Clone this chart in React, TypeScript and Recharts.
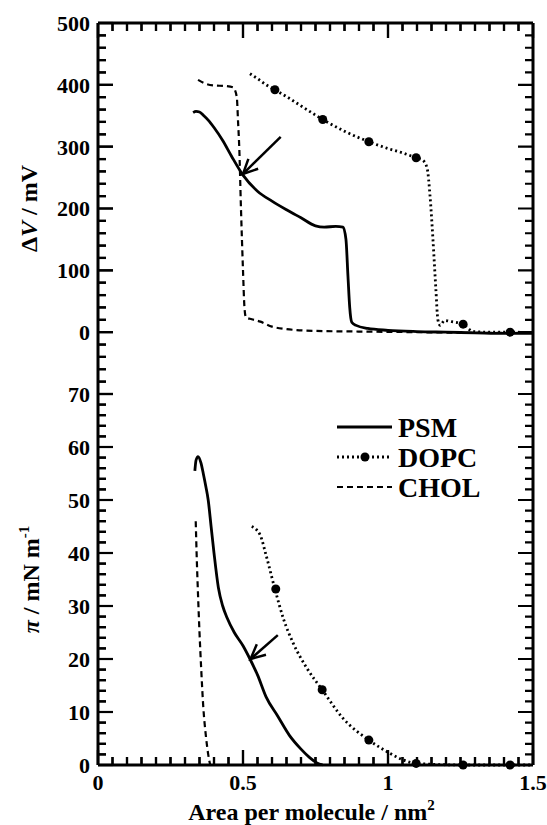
import React from "react";
import {
  LineChart,
  Line,
  XAxis,
  YAxis,
  Label,
  Legend,
  ReferenceLine,
} from "recharts";

// surface potential (top panel), x in nm^2, y in mV
const psmDvX = [0.328, 0.338, 0.35, 0.365, 0.38, 0.40, 0.43, 0.46, 0.50, 0.55, 0.60, 0.65, 0.70, 0.75, 0.78, 0.82, 0.845, 0.855, 0.862, 0.868, 0.875, 0.89, 0.93, 1.0, 1.1, 1.2, 1.3, 1.4, 1.5];
const psmDvY = [355, 357, 356, 350, 343, 331, 310, 285, 254, 228, 212, 198, 185, 172, 170, 171, 170, 150, 90, 40, 16, 11, 6, 3, 1, 0, -1, -2, -2];

const dopcDvX = [0.524, 0.55, 0.58, 0.61, 0.65, 0.70, 0.775, 0.85, 0.934, 1.0, 1.05, 1.097, 1.12, 1.135, 1.145, 1.155, 1.165, 1.172, 1.18, 1.195, 1.22, 1.259, 1.293, 1.35, 1.42, 1.5];
const dopcDvY = [418, 410, 400, 392, 381, 366, 344, 325, 308, 297, 290, 282, 278, 265, 220, 150, 70, 20, 11, 19, 17, 13, 1, 0, 0, -1];
const dopcDvMarkX = [0.61, 0.775, 0.934, 1.097, 1.259, 1.421];
const dopcDvMarkY = [392, 344, 308, 282, 13, 0];

const cholDvX = [0.345, 0.37, 0.40, 0.44, 0.466, 0.472, 0.479, 0.483, 0.487, 0.493, 0.50, 0.505, 0.51, 0.53, 0.56, 0.60, 0.65, 0.75, 0.9, 1.1, 1.3, 1.5];
const cholDvY = [408, 402, 399, 398, 396, 392, 378, 340, 300, 200, 100, 40, 24, 21, 17, 9, 5, 2, 1, 0, -1, -1];

// surface pressure (bottom panel), y in mN/m
const psmPiX = [0.334, 0.338, 0.345, 0.355, 0.363, 0.372, 0.38, 0.39, 0.40, 0.415, 0.43, 0.445, 0.47, 0.50, 0.524, 0.55, 0.58, 0.62, 0.66, 0.70, 0.73, 0.755, 0.775];
const psmPiY = [55.5, 57.5, 58.2, 57, 55, 52.5, 50, 45, 40, 33.5, 30, 27.8, 25, 22.5, 20, 17, 12.8, 9.2, 5.6, 3, 1.4, 0.4, 0];

const dopcPiX = [0.53, 0.545, 0.56, 0.58, 0.61, 0.64, 0.673, 0.72, 0.773, 0.845, 0.934, 1.007, 1.05, 1.097, 1.259, 1.421, 1.5];
const dopcPiY = [45, 44.5, 43.3, 39.5, 33.2, 27.5, 23, 18.3, 14.2, 8.8, 4.7, 2.2, 1, 0.3, 0, 0, 0];
const dopcPiMarkX = [0.613, 0.773, 0.934, 1.097, 1.259, 1.421];
const dopcPiMarkY = [33.2, 14.2, 4.7, 0.3, 0, 0];

const cholPiX = [0.337, 0.34, 0.345, 0.35, 0.356, 0.363, 0.372, 0.38, 0.387];
const cholPiY = [46, 40, 32, 25, 18, 11, 5.5, 2, 0];

// arrows: [tail, tip]
const dvArrow = [{ x: 0.63, y: 316 }, { x: 0.5, y: 256 }];
const piArrow = [{ x: 0.62, y: 24.5 }, { x: 0.526, y: 20 }];

const legendNames = ["PSM", "DOPC", "CHOL"];

const X_DOMAIN = [0, 1.5];
const DV_DOMAIN = [-100, 500];
const PI_DOMAIN = [0, 70];

const xTicks = range(0, 1.5, 0.05);
const dvTicks = range(-100, 500, 20);
const piTicks = range(0, 70, 2);

function range(a: number, b: number, step: number) {
  const out: number[] = [];
  const n = Math.round((b - a) / step);
  for (let i = 0; i <= n; i++) out.push(Math.round((a + i * step) * 1000) / 1000);
  return out;
}

const pts = (xs: number[], ys: number[]) => xs.map((x, i) => ({ x, y: ys[i] }));

const FONT = "Liberation Serif, Tinos, Times New Roman, serif";
const MAJOR = 15;
const MINOR = 8;

const xMajor = (v: number) => Math.abs(v * 2 - Math.round(v * 2)) < 1e-6;
const dvMajor = (v: number) => v % 100 === 0;
const piMajor = (v: number) => v % 10 === 0;

// ---- tick labels (main charts) ----
const leftLabel = (show: (v: number) => boolean) => (props: any) => {
  const v = Number(props.payload?.value);
  if (!show(v)) return <g />;
  return (
    <text x={Number(props.x) - 8} y={Number(props.y)} dy="0.36em" textAnchor="end" fontFamily={FONT} fontWeight="bold" fontSize={22} fill="#000">
      {String(v)}
    </text>
  );
};
const dvLabel = leftLabel((v) => v >= 0 && dvMajor(v));
const piLabel = leftLabel(piMajor);

const bottomLabel = (props: any) => {
  const v = Number(props.payload?.value);
  if (!xMajor(v)) return <g />;
  return (
    <text x={Number(props.x)} y={Number(props.y) + 25} textAnchor="middle" fontFamily={FONT} fontWeight="bold" fontSize={22} fill="#000">
      {String(v)}
    </text>
  );
};

const noLabel = () => <g />;

// ---- tick marks (overlay charts) ----
const axisTick = (side: "left" | "top" | "bottom", isMajor: (v: number) => boolean) => (props: any) => {
  const x = Number(props.x);
  const y = Number(props.y);
  const L = isMajor(Number(props.payload?.value)) ? MAJOR : MINOR;
  const d = side === "left" ? `M${x},${y}h${L}` : side === "top" ? `M${x},${y}v${L}` : `M${x},${y}v${-L}`;
  return <path d={d} stroke="#000" strokeWidth={2.2} fill="none" />;
};
const dvLeftTick = axisTick("left", dvMajor);
const piLeftTick = axisTick("left", piMajor);
const xTopTick = axisTick("top", xMajor);
const xBottomTick = axisTick("bottom", xMajor);

const hTick = (len: number) => (p: any) => {
  const l = Math.min(p.x1, p.x2);
  const r = Math.max(p.x1, p.x2);
  return <path d={`M${l},${p.y1}h${len}M${r},${p.y1}h${-len}`} stroke="#000" strokeWidth={2.2} fill="none" />;
};
const vTick = (len: number, edge: "top" | "bottom") => (p: any) => {
  const t = Math.min(p.y1, p.y2);
  const b = Math.max(p.y1, p.y2);
  const d = edge === "top" ? `M${p.x1},${t}v${len}` : `M${p.x1},${b}v${-len}`;
  return <path d={d} stroke="#000" strokeWidth={2.2} fill="none" />;
};
const hMajorShape = hTick(MAJOR);
const hMinorShape = hTick(MINOR);
const vTopMajor = vTick(MAJOR, "top");
const vTopMinor = vTick(MINOR, "top");
const vBotMajor = vTick(MAJOR, "bottom");
const vBotMinor = vTick(MINOR, "bottom");

const Arrow = (p: any) => {
  const { x1, y1, x2, y2 } = p;
  const ang = Math.atan2(y2 - y1, x2 - x1);
  const L = 16;
  const a1 = ang + Math.PI - 0.45;
  const a2 = ang + Math.PI + 0.45;
  return (
    <g>
      <line x1={x1} y1={y1} x2={x2} y2={y2} stroke="#000" strokeWidth={2.5} />
      <polyline
        points={`${x2 + L * Math.cos(a1)},${y2 + L * Math.sin(a1)} ${x2},${y2} ${x2 + L * Math.cos(a2)},${y2 + L * Math.sin(a2)}`}
        fill="none"
        stroke="#000"
        strokeWidth={2.5}
      />
    </g>
  );
};

const dvTitle = ({ viewBox }: any) => {
  const cx = viewBox.x + 29;
  const cy = viewBox.y + viewBox.height / 2;
  return (
    <text x={cx} y={cy} transform={`rotate(-90, ${cx}, ${cy})`} textAnchor="middle" dy="0.35em" fontFamily={FONT} fontWeight="bold" fontSize={24} fill="#000">
      Δ<tspan fontStyle="italic">V</tspan> / mV
    </text>
  );
};

const piTitle = ({ viewBox }: any) => {
  const cx = viewBox.x + 31;
  const cy = viewBox.y + viewBox.height / 2;
  return (
    <text x={cx} y={cy} transform={`rotate(-90, ${cx}, ${cy})`} textAnchor="middle" dy="0.35em" fontFamily={FONT} fontWeight="bold" fontSize={24} fill="#000">
      <tspan fontStyle="italic">π</tspan> / mN m<tspan dy={-10} fontSize={15}>-1</tspan>
    </text>
  );
};

const xTitle = ({ viewBox }: any) => (
  <text x={viewBox.x + viewBox.width / 2 - 4} y={viewBox.y + 55} textAnchor="middle" fontFamily={FONT} fontWeight="bold" fontSize={24} fill="#000">
    Area per molecule / nm<tspan dy={-10} fontSize={15}>2</tspan>
  </text>
);

const LegendBox = () => (
  <svg width={210} height={100}>
    {legendNames.map((name, i) => {
      const y = 17 + i * 30;
      return (
        <g key={name}>
          <line
            x1={1}
            y1={y}
            x2={56}
            y2={y}
            stroke="#000"
            strokeWidth={i === 2 ? 2.2 : 2.8}
            strokeDasharray={i === 0 ? undefined : i === 1 ? "2 3" : "6 4"}
          />
          {i === 1 && <circle cx={29} cy={y} r={4.5} fill="#000" />}
          <text x={62} y={y} dy="0.35em" fontFamily={FONT} fontWeight="bold" fontSize={28} fill="#000">
            {name}
          </text>
        </g>
      );
    })}
  </svg>
);
const legendContent = () => <LegendBox />;

const W = 547;
const H = 825;
const PLOT_TOP = 23;
const SPLIT = 394;
const PLOT_BOTTOM = 765;
const LEFT = 98;
const RIGHT_W = 14;

const axisLine = { stroke: "#000", strokeWidth: 3 };

const topMargin = { top: 0, right: 0, left: 0, bottom: H - SPLIT };
const bottomMargin = { top: SPLIT, right: 0, left: 0, bottom: 0 };

// transparent chart drawn on top that carries only the inward tick marks of one panel
function TickLayer(props: {
  margin: any;
  edge: "top" | "bottom";
  yDomain: number[];
  yTicks: number[];
  yMajor: (v: number) => boolean;
  leftTick: (p: any) => any;
  series: { x: number; y: number }[];
}) {
  const { margin, edge, yDomain, yTicks, yMajor, leftTick, series } = props;
  return (
    <div style={{ position: "absolute", left: 0, top: 0, pointerEvents: "none" }}>
      <LineChart width={W} height={H} margin={margin}>
        <XAxis
          type="number"
          dataKey="x"
          orientation={edge}
          domain={X_DOMAIN}
          ticks={xTicks}
          interval={0}
          height={edge === "top" ? PLOT_TOP : H - PLOT_BOTTOM}
          tickSize={0}
          tickMargin={0}
          tickLine={false}
          axisLine={false}
          tick={edge === "top" ? xTopTick : xBottomTick}
        />
        <YAxis
          yAxisId="l"
          type="number"
          dataKey="y"
          domain={yDomain}
          ticks={yTicks}
          interval={0}
          width={LEFT}
          tickSize={0}
          tickMargin={0}
          tickLine={false}
          axisLine={false}
          tick={leftTick}
        />
        <YAxis yAxisId="r" orientation="right" type="number" domain={yDomain} width={RIGHT_W} tick={false} tickLine={false} axisLine={false} />
        <Line yAxisId="l" data={series} dataKey="y" stroke="none" dot={false} isAnimationActive={false} />
        {yTicks.map((v) => (
          <ReferenceLine key={`h${v}`} yAxisId="l" y={v} shape={yMajor(v) ? hMajorShape : hMinorShape} />
        ))}
        {xTicks.map((v) => (
          <ReferenceLine
            key={`v${v}`}
            yAxisId="l"
            x={v}
            shape={edge === "top" ? (xMajor(v) ? vTopMajor : vTopMinor) : xMajor(v) ? vBotMajor : vBotMinor}
          />
        ))}
      </LineChart>
    </div>
  );
}

export default function App() {
  return (
    <div style={{ position: "absolute", left: 0, top: 0, width: W, height: H, background: "#fff" }}>
      <div style={{ position: "absolute", left: 0, top: 0 }}>
        <LineChart width={W} height={H} margin={topMargin}>
          <XAxis
            type="number"
            dataKey="x"
            orientation="top"
            domain={X_DOMAIN}
            ticks={xTicks}
            interval={0}
            height={PLOT_TOP}
            tickSize={0}
            tickMargin={0}
            tickLine={false}
            axisLine={axisLine}
            tick={noLabel}
          />
          <YAxis
            yAxisId="l"
            type="number"
            dataKey="y"
            domain={DV_DOMAIN}
            ticks={dvTicks}
            interval={0}
            width={LEFT}
            tickSize={0}
            tickMargin={0}
            tickLine={false}
            axisLine={axisLine}
            tick={dvLabel}
          >
            <Label content={dvTitle} />
          </YAxis>
          <YAxis yAxisId="r" orientation="right" type="number" domain={DV_DOMAIN} width={RIGHT_W} tick={false} tickLine={false} axisLine={axisLine} />
          <Line yAxisId="l" data={pts(psmDvX, psmDvY)} dataKey="y" type="monotone" stroke="#000" strokeWidth={2.8} dot={false} isAnimationActive={false} />
          <Line yAxisId="l" data={pts(dopcDvX, dopcDvY)} dataKey="y" type="monotone" stroke="#000" strokeWidth={2.8} strokeDasharray="2 3" dot={false} isAnimationActive={false} />
          <Line yAxisId="l" data={pts(dopcDvMarkX, dopcDvMarkY)} dataKey="y" stroke="none" dot={{ r: 4.5, fill: "#000", stroke: "none" }} isAnimationActive={false} />
          <Line yAxisId="l" data={pts(cholDvX, cholDvY)} dataKey="y" type="monotone" stroke="#000" strokeWidth={2.2} strokeDasharray="6 4" dot={false} isAnimationActive={false} />
          <ReferenceLine yAxisId="l" segment={dvArrow} shape={Arrow} />
        </LineChart>
      </div>
      <div style={{ position: "absolute", left: 0, top: 0 }}>
        <LineChart width={W} height={H} margin={bottomMargin}>
          <XAxis
            type="number"
            dataKey="x"
            orientation="bottom"
            domain={X_DOMAIN}
            ticks={xTicks}
            interval={0}
            height={H - PLOT_BOTTOM}
            tickSize={0}
            tickMargin={0}
            tickLine={false}
            axisLine={axisLine}
            tick={bottomLabel}
          >
            <Label content={xTitle} />
          </XAxis>
          <YAxis
            yAxisId="l"
            type="number"
            dataKey="y"
            domain={PI_DOMAIN}
            ticks={piTicks}
            interval={0}
            width={LEFT}
            tickSize={0}
            tickMargin={0}
            tickLine={false}
            axisLine={axisLine}
            tick={piLabel}
          >
            <Label content={piTitle} />
          </YAxis>
          <YAxis yAxisId="r" orientation="right" type="number" domain={PI_DOMAIN} width={RIGHT_W} tick={false} tickLine={false} axisLine={axisLine} />
          <Legend
            layout="vertical"
            align="center"
            verticalAlign="middle"
            content={legendContent}
            wrapperStyle={{ left: 336, top: 410, width: 210, height: 100 }}
          />
          <Line yAxisId="l" data={pts(psmPiX, psmPiY)} dataKey="y" type="monotone" stroke="#000" strokeWidth={2.8} dot={false} isAnimationActive={false} />
          <Line yAxisId="l" data={pts(dopcPiX, dopcPiY)} dataKey="y" type="monotone" stroke="#000" strokeWidth={2.8} strokeDasharray="2 3" dot={false} isAnimationActive={false} />
          <Line yAxisId="l" data={pts(dopcPiMarkX, dopcPiMarkY)} dataKey="y" stroke="none" dot={{ r: 4.5, fill: "#000", stroke: "none" }} isAnimationActive={false} />
          <Line yAxisId="l" data={pts(cholPiX, cholPiY)} dataKey="y" type="monotone" stroke="#000" strokeWidth={2.2} strokeDasharray="6 4" dot={false} isAnimationActive={false} />
          <ReferenceLine yAxisId="l" segment={piArrow} shape={Arrow} />
        </LineChart>
      </div>
      <TickLayer
        margin={topMargin}
        edge="top"
        yDomain={DV_DOMAIN}
        yTicks={dvTicks}
        yMajor={dvMajor}
        leftTick={dvLeftTick}
        series={pts(psmDvX, psmDvY)}
      />
      <TickLayer
        margin={bottomMargin}
        edge="bottom"
        yDomain={PI_DOMAIN}
        yTicks={piTicks}
        yMajor={piMajor}
        leftTick={piLeftTick}
        series={pts(psmPiX, psmPiY)}
      />
    </div>
  );
}
